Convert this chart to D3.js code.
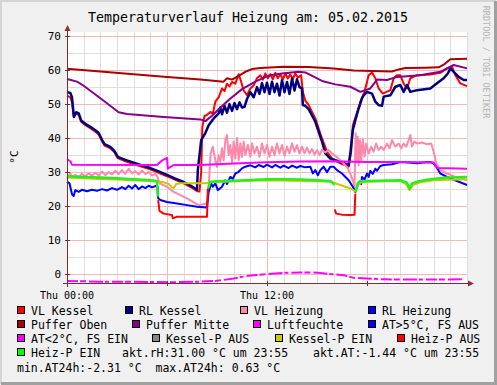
<!DOCTYPE html>
<html>
<head>
<meta charset="utf-8">
<script src="https://cdn.jsdelivr.net/npm/d3@7"></script>
<style>
  body { margin: 0; background: #f0f0f0; }
  svg { display: block; font-family: "DejaVu Sans Mono", monospace; }
</style>
</head>
<body>
<script>
// Temperaturverlauf Heizung, values ([hour, °C])

var vlKessel = [[0,52.5],[0.2,52.0],[0.3,50.5],[0.4,46.3],[0.55,47.2],[0.7,46.8],[0.85,44.8],[1.1,43.8],[1.4,42.9],[1.7,41.9],[1.9,41.1],[2.1,39.1],[2.25,37.8],[2.6,37.0],[2.85,35.8],[3.05,34.1],[3.5,33.2],[4,32.4],[4.5,31.6],[5,30.8],[5.5,29.8],[6,28.8],[6.5,27.7],[7,26.7],[7.5,25.4],[7.8,24.4],[7.95,24.3],[8.05,30],[8.12,43.3],[8.25,46.5],[8.4,46.8],[8.6,47.7],[8.75,47.2],[8.9,50.7],[9.1,52],[9.3,54.6],[9.45,53.8],[9.6,56],[9.75,55.2],[9.9,56.5],[10.1,56],[10.3,58.8],[10.45,56.6],[10.6,54],[10.8,52.6],[11.0,54.6],[11.2,55.5],[11.4,57.6],[11.6,58.5],[11.75,57.2],[11.9,59],[12.05,57.6],[12.2,58.8],[12.35,57.3],[12.5,59.2],[12.65,57.6],[12.8,58.8],[12.95,57.3],[13.1,59],[13.25,57.5],[13.4,58.7],[13.55,57.4],[13.7,59],[13.85,57.8],[14.05,58.5],[14.15,53.6],[14.3,51],[14.5,49.7],[14.9,45.8],[15.3,39.9],[15.6,36],[15.9,34],[16.4,32.6],[16.9,31.6],[17.05,36],[17.15,43.8],[17.35,46.8],[17.6,50.7],[17.85,53.6],[18.1,58.5],[18.3,59.3],[18.5,57.6],[18.7,54.6],[18.95,53.1],[19.4,54.1],[19.6,57.6],[19.8,58.5],[20.0,58.5],[20.2,56],[20.4,54.6],[20.6,57.6],[21.0,58.5],[21.8,58.7],[22.4,59.2],[22.8,60.5],[23.1,61],[23.3,58.5],[23.6,56.1],[24,55.3]];

var rlKessel = [[0,53.5],[0.2,53.3],[0.3,52.0],[0.35,49.5],[0.42,46.2],[0.55,47.6],[0.7,47.3],[0.85,45.2],[1.1,44.2],[1.4,43.3],[1.7,42.3],[1.9,41.5],[2.1,39.5],[2.25,38.2],[2.6,37.4],[2.85,36.2],[3.05,34.5],[3.5,33.6],[4,32.8],[4.5,32],[5,31.2],[5.5,30.2],[6,29.2],[6.5,28.1],[7,27.1],[7.5,25.8],[7.8,24.8],[7.85,30.6],[8.05,39.4],[8.3,41.5],[8.5,43.8],[8.8,45.8],[9.1,47.3],[9.2,49],[9.3,47],[9.45,49.5],[9.6,47.5],[9.75,50],[9.9,48],[10.05,50.3],[10.2,48.5],[10.35,50.5],[10.5,49],[10.65,49.2],[10.8,51.5],[11.0,53.5],[11.2,52],[11.4,55],[11.55,53],[11.7,56.2],[11.85,53.5],[12.0,56.3],[12.15,53],[12.3,56.6],[12.45,53.5],[12.6,56],[12.75,52.5],[12.9,57],[13.05,53.5],[13.2,56.5],[13.35,53],[13.5,57.5],[13.65,54],[13.8,57.3],[13.95,55],[14.1,54.6],[14.15,49.7],[14.3,49.5],[14.5,48.5],[14.9,44.8],[15.3,39],[15.5,35.5],[15.8,34],[16.4,33],[16.9,32.1],[17.0,35.6],[17.15,42.4],[17.3,45.3],[17.5,48.7],[17.7,51.7],[17.8,52.6],[18.0,53.6],[18.3,53.1],[18.5,50.7],[18.7,49.7],[18.9,49.5],[19.0,52.2],[19.4,52.6],[19.7,55.1],[20.0,55.6],[20.2,53.6],[20.4,55.6],[20.6,53.6],[21,54.1],[21.8,54.6],[22.2,56.1],[22.6,57.6],[22.85,59],[23.0,60.5],[23.2,59.5],[23.5,58],[23.8,57.1],[24,57.1]];

var vlHeizung = [[0,28.1],[0.2,29.6],[0.3,28.5],[0.5,29.2],[0.7,28.6],[0.9,29.5],[1.1,28.8],[1.3,29.7],[1.5,28.9],[1.7,29.8],[1.9,29.0],[2.1,30.2],[2.3,29.1],[2.5,30.0],[2.7,29.3],[2.9,30.4],[3.1,29.4],[3.3,30.6],[3.5,29.5],[3.7,31.0],[3.9,29.6],[4.1,30.3],[4.3,29.3],[4.5,30.5],[4.7,29.4],[4.9,30.1],[5.1,29.0],[5.3,29.5],[5.43,28.6],[5.55,26.7],[6,25.7],[6.4,24.2],[7.2,22.3],[7.9,20.3],[8.4,20.8],[8.5,25.7],[8.62,35.5],[8.75,37.5],[8.9,33.5],[9.0,31.5],[9.1,35],[9.2,33],[9.3,37],[9.4,33.5],[9.5,39.4],[9.6,40.9],[9.7,35],[9.8,38],[9.9,33],[10.0,39],[10.1,34],[10.2,40],[10.3,33.5],[10.4,38.5],[10.5,34.5],[10.6,39],[10.7,35],[10.85,38],[11.0,34.5],[11.1,38.5],[11.25,35.5],[11.4,37.5],[11.55,34.5],[11.7,38.4],[11.85,35.5],[12.0,38],[12.15,34.5],[12.3,37.5],[12.45,35],[12.6,38.4],[12.75,35.5],[12.9,38],[13.05,34.8],[13.2,37.5],[13.35,35.5],[13.5,38.5],[13.65,36],[13.8,37.9],[13.95,35.5],[14.1,37.5],[14.25,35.5],[14.4,37.2],[14.55,35.5],[14.7,36.8],[14.85,35.2],[15.0,36.5],[15.15,35],[15.3,36.5],[15.5,35.8],[15.7,36.5],[15.9,35.5],[16.1,34.8],[16.4,33.5],[16.8,31.5],[17.0,29.5],[17.15,27.6],[17.25,25.7],[17.32,41.4],[17.38,33],[17.45,40.4],[17.5,32],[17.58,39.4],[17.65,33.5],[17.75,39.5],[17.85,34.5],[17.95,38.4],[18.1,35.5],[18.25,37.5],[18.4,36],[18.55,38.4],[18.7,36.5],[18.85,37.5],[19.0,36.5],[19.2,38.4],[19.35,37],[19.5,39.4],[19.7,37.5],[19.9,38.4],[20.05,37],[20.2,38.4],[20.35,37.5],[20.5,39.4],[20.6,40.9],[20.7,37.5],[20.85,39],[21,38.4],[21.3,38.7],[21.6,38.2],[21.85,38.4],[22.0,36],[22.15,32.6],[22.4,30.6],[22.8,29.6],[23.3,28.6],[24,27.6]];

var rlHeizung = [[0,27.2],[0.15,26.7],[0.3,23.5],[0.4,23.0],[0.5,24.7],[0.7,24.2],[0.9,24.8],[1.2,24.4],[1.5,24.8],[1.8,24.5],[2.1,25.0],[2.4,24.6],[2.7,25.3],[3.0,24.8],[3.3,25.6],[3.5,25.0],[3.7,26.0],[3.9,25.2],[4.1,26.2],[4.3,25.0],[4.5,25.8],[4.7,25.3],[4.9,26.0],[5.1,25.5],[5.3,25.9],[5.43,25.7],[5.47,22.3],[5.6,21.8],[6.0,21.2],[6.6,20.8],[7.2,20.3],[7.8,19.8],[8.4,19.6],[8.5,24.2],[8.65,26.7],[8.75,25.7],[8.9,26.7],[9.05,24.7],[9.3,25.7],[9.5,27.6],[9.6,26.5],[9.8,28.6],[9.95,28],[10.1,29.6],[10.3,30.1],[10.5,31.1],[10.7,31.6],[11,32.0],[11.3,31.4],[11.5,32.1],[11.8,31.5],[12,32.2],[12.3,31.4],[12.5,32.1],[12.8,31.3],[13,31.9],[13.3,31.2],[13.5,31.9],[13.8,31.3],[14,31.8],[14.3,31.4],[14.6,31.6],[14.75,29.6],[14.9,30.6],[15.05,29.1],[15.2,30.6],[15.4,31.6],[15.6,30],[15.8,31.6],[16.0,31.6],[16.2,30.6],[16.5,29.6],[16.9,27.6],[17.15,25.7],[17.3,24.2],[17.4,25.7],[17.55,27.2],[17.65,26.5],[17.7,28.6],[17.85,27.8],[18.0,29.6],[18.1,28.6],[18.2,30.4],[18.35,29.5],[18.5,31],[18.6,30.4],[18.8,31.8],[19.0,32.1],[19.5,32.3],[20.0,33.0],[20.5,32.8],[21.0,32.6],[21.5,32.9],[21.8,33.0],[22.0,32.5],[22.15,31.6],[22.4,29.6],[22.8,28.6],[23.4,27.4],[24,26.2]];

var pufferOben = [[0,60.4],[2,59.6],[4,58.8],[6,58],[8,57.2],[9.4,56.6],[9.6,57.6],[9.9,57.2],[10.3,58.3],[10.7,59.5],[11.1,60.3],[11.6,60.6],[13,61],[14.5,60.9],[16,60.5],[17.2,59.9],[18.3,59.7],[19.5,59.6],[19.9,60.2],[20.3,60.6],[21.5,60.7],[22.3,60.8],[22.6,61.6],[23.0,63.2],[24,63.3]];

var pufferMitte = [[0,57.4],[0.6,56.6],[1,55.4],[1.6,53.2],[2.2,51],[3.1,47.6],[3.6,47.1],[5.6,46.3],[8,45.5],[8.3,45.0],[8.7,46.6],[9.1,48.5],[9.7,51.2],[10.5,54.4],[11.3,56.6],[12.1,58.4],[12.9,59.0],[13.9,59.5],[14.3,59.3],[15.3,56.8],[16.1,55.8],[17,55.1],[17.6,53.6],[18.2,54.6],[18.6,57.2],[19.2,57.1],[19.8,58],[21.2,58.5],[22.4,59.5],[23.2,61.5],[24,60.5]];

var luftfeuchte = [[0,33.8],[0.2,33.2],[0.3,32.2],[5.4,32.1],[5.6,33],[5.8,33.7],[6.0,34.2],[6.05,31],[6.2,31.5],[6.4,32.1],[8,32.1],[10,32.5],[12,32.9],[14,33.1],[16,33.2],[18,33],[20,33],[22.0,32.8],[22.2,31.2],[24,31.0]];

var aussenTemp = [[0,-2.0],[2,-2.2],[4,-2.2],[6,-2.4],[8,-2.2],[9,-1.95],[10,-1.3],[10.5,-0.8],[11,-0.4],[11.5,-0.2],[12,0],[13,0.4],[14,0.5],[15,0.45],[15.9,0.0],[16.6,-0.3],[17.2,-1.1],[18,-1.3],[19,-1.5],[20,-1.6],[22,-1.6],[23.8,-1.5]];

var kesselPEin = [[0,28.4],[1,28.2],[2,28.0],[3,27.8],[4,27.6],[5,27.4],[5.5,27.2],[5.8,27.0],[6.1,26.5],[6.3,25.5],[6.4,25.3],[6.55,26.5],[6.8,26.7],[7.5,26.7],[8.4,26.7],[8.6,27.0],[9,27.1],[12,27.6],[15,27.3],[15.8,27.2],[16.4,26.2],[17,25.2],[17.3,24.4],[17.5,26.5],[17.7,27.1],[18,27.2],[20,27.4],[20.35,26.5],[20.55,24.7],[20.75,26.2],[21.2,27.0],[22,27.6],[24,27.9]];

var heizPAus = [[5.47,21.8],[5.55,18.6],[5.8,17.8],[6.3,17.4],[6.35,16.4],[6.6,16.9],[7.5,16.9],[8.4,16.9],[8.45,25.2],[8.46,null],
                [16.07,19],[16.15,17.8],[16.5,17.5],[17.0,17.4],[17.25,17.5],[17.3,23.7]];

var heizPEin = [[0,28.8],[1,28.6],[2,28.4],[3,28.2],[4,27.9],[5,27.6],[5.4,27.4],[5.45,22.8],[5.46,null],
                [8.47,25.2],[8.6,27.2],[9,27.3],[10,27.5],[11,27.7],[12,27.9],[13,27.9],[14,27.8],[15,27.6],[15.8,27.4],[15.95,26.8],[16.05,26.2],[16.06,null],
                [17.32,24.2],[17.45,26.8],[17.6,27.3],[18,27.4],[20,27.6],[20.4,26.9],[20.55,25.2],[20.7,26.7],[21.1,27.3],[21.8,27.9],[22.8,28.4],[24,28.6]];

var yTicks = [0, 10, 20, 30, 40, 50, 60, 70];
var xLabels = [[0, "Thu 00:00"], [12, "Thu 12:00"]];

var legendRows = [
  [["VL Kessel", "#ff0000"], ["RL Kessel", "#000080"], ["VL Heizung", "#ff88aa"], ["RL Heizung", "#0000ff"]],
  [["Puffer Oben", "#aa0000"], ["Puffer Mitte", "#880088"], ["Luftfeuchte", "#ff00ff"], ["AT>5°C, FS AUS", "#0000ff"]],
  [["AT<2°C, FS EIN", "#ff00ff"], ["Kessel-P AUS", "#888888"], ["Kessel-P EIN", "#cccc00"], ["Heiz-P AUS", "#ff0000"]],
  [["Heiz-P EIN", "#00ff00"]]
];
var legendInfo = ["akt.rH:31.00 °C um 23:55", "akt.AT:-1.44 °C um 23:55"];
var legendMinMax = "min.AT24h:-2.31 °C  max.AT24h: 0.63 °C";

var width = 497;
var height = 385;

var x = d3.scaleLinear().domain([0, 24]).range([67, 467]);
var y = d3.scaleLinear().domain([-2.6, 71.2]).range([283, 32]);

var svg = d3.select("body")
  .append("svg")
    .attr("width", width)
    .attr("height", height);

// frame
svg.append("rect").attr("width", width).attr("height", height).attr("fill", "#f0f0f0");
svg.append("path").attr("d", "M1,384V1H496").attr("fill", "none").attr("stroke", "#d4d4d4").attr("stroke-width", 2);
svg.append("path").attr("d", "M1,383.5H495.5V1").attr("fill", "none").attr("stroke", "#a0a0a0").attr("stroke-width", 3);

svg.append("rect")
  .attr("x", x(0)).attr("y", y(71.2))
  .attr("width", x(24) - x(0)).attr("height", y(-2.6) - y(71.2))
  .attr("fill", "#ffffff");

// grid
var grid = svg.append("g").attr("shape-rendering", "crispEdges");
d3.range(1, 25).forEach(function(h) {
  grid.append("line")
    .attr("x1", x(h) + 0.5).attr("x2", x(h) + 0.5)
    .attr("y1", y(71.2)).attr("y2", y(-2.6))
    .attr("stroke", h % 6 == 0 && h < 24 ? "#f4b8b8" : "#dedede");
});
d3.range(-0, 71, 5).forEach(function(v) {
  grid.append("line")
    .attr("x1", x(0)).attr("x2", x(24))
    .attr("y1", Math.round(y(v)) + 0.5).attr("y2", Math.round(y(v)) + 0.5)
    .attr("stroke", v % 10 == 0 ? "#f4b8b8" : "#dedede");
});

// series
var line = d3.line()
  .defined(function(d) { return d[1] != null; })
  .x(function(d) { return x(d[0]); })
  .y(function(d) { return y(d[1]); });

var series = [
  { data: vlKessel, color: "#ff0000", w: 2 },
  { data: rlKessel, color: "#000080", w: 2.5 },
  { data: vlHeizung, color: "#ff88aa", w: 2 },
  { data: rlHeizung, color: "#0000ff", w: 2 },
  { data: pufferOben, color: "#aa0000", w: 2 },
  { data: pufferMitte, color: "#880088", w: 2 },
  { data: luftfeuchte, color: "#ff00ff", w: 2 },
  { data: aussenTemp, color: "#ff00ff", w: 2, dash: "11,2,6,3,14,2,4,3" },
  { data: kesselPEin, color: "#c8c800", w: 2 },
  { data: heizPAus, color: "#ff0000", w: 2 },
  { data: heizPEin, color: "#22f022", w: 2.5 }
];

svg.append("g").selectAll("path")
  .data(series)
  .enter()
  .append("path")
    .attr("d", function(d) { return line(d.data); })
    .attr("fill", "none")
    .attr("stroke", function(d) { return d.color; })
    .attr("stroke-width", function(d) { return d.w; })
    .attr("stroke-dasharray", function(d) { return d.dash || null; })
    .attr("stroke-linejoin", "round");

// axes
var axisColor = "#703030";
var ax = svg.append("g").attr("shape-rendering", "crispEdges");
ax.append("line").attr("x1", 63).attr("x2", 471).attr("y1", 283.5).attr("y2", 283.5).attr("stroke", axisColor);
ax.append("line").attr("x1", 67.5).attr("x2", 67.5).attr("y1", 287).attr("y2", 30).attr("stroke", axisColor);
yTicks.forEach(function(v) {
  ax.append("line").attr("x1", 65).attr("x2", 70)
    .attr("y1", Math.round(y(v)) + 0.5).attr("y2", Math.round(y(v)) + 0.5).attr("stroke", axisColor);
});
d3.range(6, 24, 6).forEach(function(h) {
  ax.append("line").attr("x1", x(h) + 0.5).attr("x2", x(h) + 0.5)
    .attr("y1", 281).attr("y2", 286).attr("stroke", axisColor);
});
svg.append("path").attr("d", "M64.5,31L67.5,25L70.5,31Z").attr("fill", "#903030");
svg.append("path").attr("d", "M468,280.5L474,283.5L468,286.5Z").attr("fill", "#903030");

svg.append("g").selectAll("text")
  .data(yTicks)
  .enter()
  .append("text")
    .attr("x", 61)
    .attr("y", function(d) { return y(d) + 4; })
    .attr("text-anchor", "end")
    .attr("font-size", 11)
    .attr("fill", "#000")
    .text(function(d) { return d; });

svg.append("g").selectAll("text")
  .data(xLabels)
  .enter()
  .append("text")
    .attr("x", function(d) { return x(d[0]); })
    .attr("y", 298.5)
    .attr("text-anchor", "middle")
    .attr("font-size", 10)
    .text(function(d) { return d[1]; });

svg.append("text")
  .attr("transform", "translate(18,157) rotate(-90)")
  .attr("text-anchor", "middle")
  .attr("font-size", 11)
  .text("°C");

svg.append("text")
  .attr("x", 248).attr("y", 21.5)
  .attr("text-anchor", "middle")
  .attr("font-size", 13.3)
  .text("Temperaturverlauf Heizung am: 05.02.2015");

svg.append("text")
  .attr("transform", "translate(483,62) rotate(90)")
  .attr("text-anchor", "middle")
  .attr("font-size", 8.5)
  .attr("fill", "#b4b4b4")
  .text("RRDTOOL / TOBI OETIKER");

// legend
var colX = [[17, 125, 240, 368], [17, 132, 253, 368], [17, 152, 275, 397], [17]];
legendRows.forEach(function(row, i) {
  var base = 315 + i * 14;
  row.forEach(function(item, j) {
    var g = svg.append("g");
    g.append("rect")
      .attr("x", colX[i][j] + 0.5).attr("y", base - 8.5)
      .attr("width", 7).attr("height", 7)
      .attr("fill", item[1]).attr("stroke", "#000").attr("stroke-width", 1)
      .attr("shape-rendering", "crispEdges");
    g.append("text")
      .attr("x", colX[i][j] + 14).attr("y", base)
      .attr("font-size", 11.5)
      .text(item[0]);
  });
});
svg.append("text").attr("x", 122).attr("y", 357).attr("font-size", 11.5).text(legendInfo[0]);
svg.append("text").attr("x", 313).attr("y", 357).attr("font-size", 11.5).text(legendInfo[1]);
svg.append("text").attr("x", 17).attr("y", 371.5).attr("font-size", 11.5)
  .style("white-space", "pre").text(legendMinMax);
</script>
</body>
</html>
